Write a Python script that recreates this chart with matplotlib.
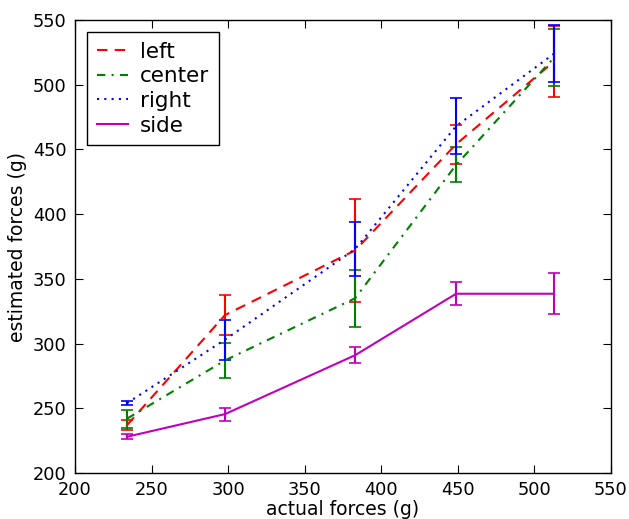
import matplotlib
matplotlib.use("Agg")
import matplotlib.pyplot as plt

# actual applied forces (g)
actual = [234, 298, 383, 449, 513]

# estimated forces and their spread, per sensor position
left_mean = [237, 322, 372, 454, 518]
left_err = [4, 15.5, 40, 15, 27.5]
center_mean = [242, 287, 335, 438, 521]
center_err = [7, 13.3, 22, 13.5, 22]
right_mean = [254, 303, 373, 468, 524]
right_err = [1.6, 15.5, 21, 21.5, 22]
side_mean = [228, 245.5, 291, 338.5, 338.5]
side_err = [2, 5, 6, 9, 16]

series = [
    ("left", left_mean, left_err, "#ff0000", (0, (5, 3.5))),
    ("center", center_mean, center_err, "#008000", (0, (4, 3, 1, 3))),
    ("right", right_mean, right_err, "#0000ff", (0, (1, 2.5))),
    ("side", side_mean, side_err, "#bf00bf", "-"),
]

fig = plt.figure(figsize=(6.29, 5.19), dpi=100)
ax = fig.add_axes([75 / 629, 1 - 473 / 519, 535.7 / 629, 453 / 519])

for name, mean, err, color, ls in series:
    line, caps, bars = ax.errorbar(actual, mean, yerr=err, color=color,
                                   linewidth=1.5, elinewidth=1.5,
                                   capsize=4, capthick=1.2, label=name)
    line.set_linestyle(ls)

ax.set_xlim(200, 550)
ax.set_ylim(200, 550)
ax.set_xticks(range(200, 551, 50))
ax.set_yticks(range(200, 551, 50))
ax.tick_params(direction="in", top=True, right=True, length=6,
               width=0.8, labelsize=12.8, pad=6)
for sp in ax.spines.values():
    sp.set_linewidth(1.0)

ax.set_xlabel("actual forces (g)", fontsize=13.5, labelpad=0.5)
ax.set_ylabel("estimated forces (g)", fontsize=13.5, labelpad=4)

handles, labels = ax.get_legend_handles_labels()
handles = [h[0] for h in handles]
leg = ax.legend(handles, labels, loc="upper left", fontsize=15.5,
                fancybox=False, framealpha=1, edgecolor="black",
                handlelength=1.45, handletextpad=0.55, labelspacing=0.22,
                borderpad=0.45, borderaxespad=0.55)
leg.get_frame().set_linewidth(1.0)

fig.savefig("out.png", dpi=100)
